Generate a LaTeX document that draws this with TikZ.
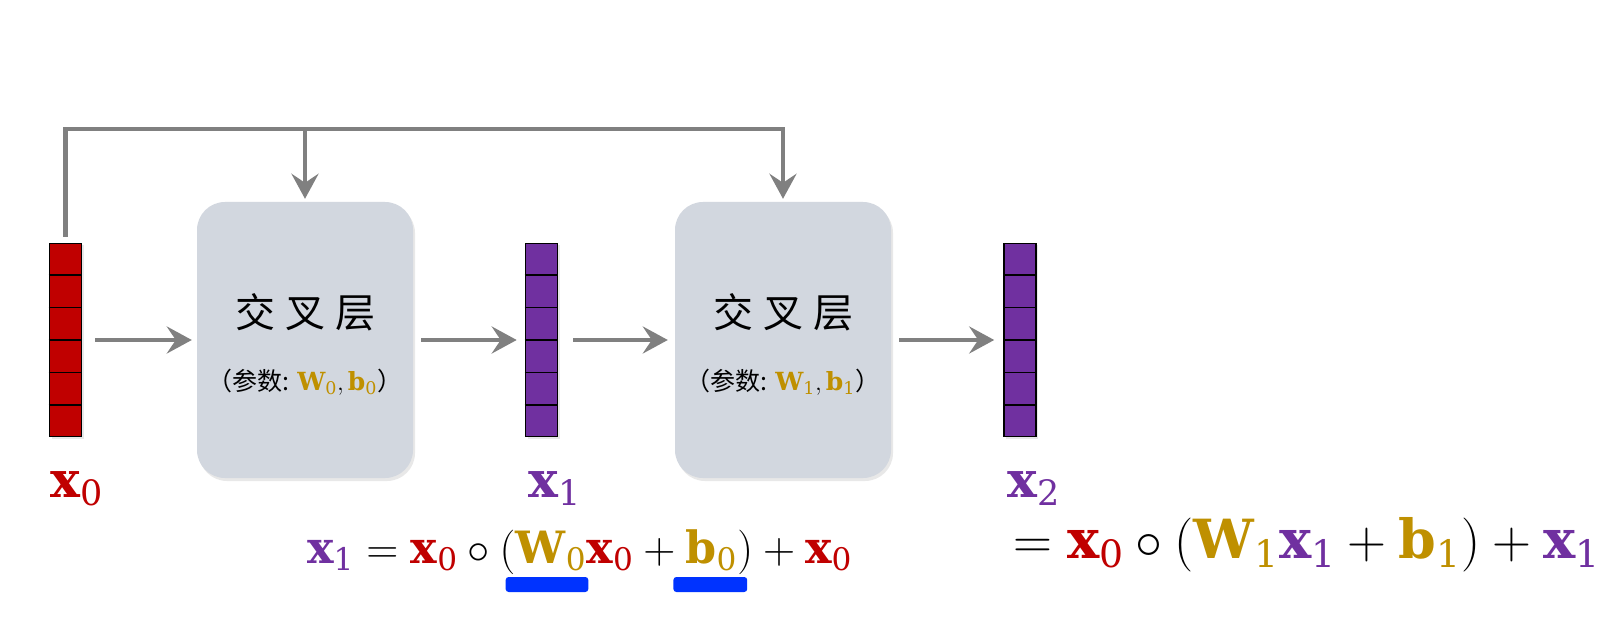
\RequirePackage{fix-cm}
\documentclass[tikz,border=0pt]{standalone}
\usepackage{fontspec}
\setmathrm{DejaVu Serif}
\newfontfamily\cjk{Noto Sans CJK SC}
\usetikzlibrary{arrows.meta,shadows,calc}
\definecolor{cred}{HTML}{C00000}
\definecolor{cpur}{HTML}{7030A0}
\definecolor{cgold}{HTML}{BF9000}
\definecolor{cblue}{HTML}{0033FF}
\definecolor{cgray}{HTML}{808080}
\definecolor{cbox}{HTML}{D2D7DF}
\newcommand{\Vx}[2]{{\color{#1}\mathbf{x}_{\mathrm{#2}}}}
\newcommand{\VW}[1]{{\color{cgold}\mathbf{W}_{\mathrm{#1}}}}
\newcommand{\Vb}[1]{{\color{cgold}\mathbf{b}_{\mathrm{#1}}}}
\newcommand{\Eq}{\mathrel{\mathrm{=}}}
\newcommand{\Pl}{\mathbin{\mathrm{+}}}
\tikzset{
  conn/.style={draw=cgray, line width=4.8pt, -{Stealth[length=25pt,width=27pt,inset=9pt]}},
  layer/.style={fill=cbox, draw=none, rounded corners=28pt, minimum width=216pt, minimum height=276pt, inner sep=0pt,
    drop shadow={opacity=0.18, shadow xshift=2pt, shadow yshift=-3pt}},
  vec/.style={draw=black, line width=1.6pt, minimum width=32pt, minimum height=193pt, inner sep=0pt,
    drop shadow={opacity=0.18, shadow xshift=2pt, shadow yshift=-2pt}},
  lbl/.style={anchor=base west, inner sep=0pt, font=\fontsize{50}{54}\selectfont},
  eqn/.style={anchor=base west, inner sep=0pt},
  eqa/.style={eqn, font=\fontsize{44.5}{48}\selectfont},
  bar/.style={fill=cblue, draw=none, rounded corners=3pt},
  title/.style={font=\cjk\fontsize{40}{44}\selectfont, inner sep=0pt},
  param/.style={font=\cjk\fontsize{25}{28}\selectfont, inner sep=0pt},
}
\newcommand{\cellines}[1]{%
  \foreach \i in {1,...,5}{\draw[line width=1.6pt] ($(#1.north west)!\i/6!(#1.south west)$) -- ($(#1.north east)!\i/6!(#1.south east)$);}}
\begin{document}
\begin{tikzpicture}[x=1pt,y=-1pt]
\useasboundingbox[fill=white] (0,0) rectangle (1620,620);
% vectors
\node[vec, fill=cred] (x0v) at (65.5,340) {};
\cellines{x0v}
\node[vec, fill=cpur] (x1v) at (541.5,340) {};
\cellines{x1v}
\node[vec, fill=cpur] (x2v) at (1020,340) {};
\cellines{x2v}
% layers
\node[layer] (b1) at (305,340) {};
\node[layer] (b2) at (783,340) {};
\node[title] (t1) at ([yshift=28pt]b1.center) {交\hspace{10pt}叉\hspace{10pt}层};
\node[title] (t2) at ([yshift=28pt]b2.center) {交\hspace{10pt}叉\hspace{10pt}层};
\node[param] (p1) at ([yshift=-42pt]b1.center) {（参数: $\VW{0}, \Vb{0}$）};
\node[param] (p2) at ([yshift=-42pt]b2.center) {（参数: $\VW{1}, \Vb{1}$）};
% forward arrows
\draw[conn, shorten <=13pt, shorten >=5pt] (x0v.east) -- (b1.west);
\draw[conn, shorten <=8pt, shorten >=8pt] (b1.east) -- (x1v.west);
\draw[conn, shorten <=15pt, shorten >=7pt] (x1v.east) -- (b2.west);
\draw[conn, shorten <=8pt, shorten >=9pt] (b2.east) -- (x2v.west);
% skip connection
\coordinate (top1) at (305,129);
\coordinate (top2) at (783,129);
\draw[conn] ([yshift=6pt]x0v.north) |- (top2) -- ([yshift=3pt]b2.north);
\draw[conn] (top1) -- ([yshift=3pt]b1.north);
% labels
\node[lbl] (l0) at (50,497) {$\Vx{cred}{0}$};
\node[lbl] (l1) at (528,497) {$\Vx{cpur}{1}$};
\node[lbl] (l2) at (1007,497) {$\Vx{cpur}{2}$};
% equation 1 (in pieces, so the bars sit under W0 and b0)
\node[eqa] (e1a) at (307,563) {$\Vx{cpur}{1} \Eq \Vx{cred}{0} \circ ($};
\node[eqa] (e1b) at (e1a.base east) {$\VW{0}$};
\node[eqa] (e1c) at (e1b.base east) {$\Vx{cred}{0} \Pl {}$};
\node[eqa] (e1d) at (e1c.base east) {$\Vb{0}$};
\node[eqa] (e1e) at (e1d.base east) {$) \Pl \Vx{cred}{0}$};
\path[bar] ([xshift=-10pt]e1b.base west |- 0,577) rectangle ([xshift=2pt]e1b.base east |- 0,592);
\path[bar] ([xshift=-12pt]e1d.base west |- 0,577) rectangle ([xshift=10pt]e1d.base east |- 0,592);
% equation 2
\node[eqn, font=\fontsize{54}{58}\selectfont] (e2) at (1013,558)
  {$\Eq \Vx{cred}{0} \circ (\VW{1}\Vx{cpur}{1} \Pl \Vb{1}) \Pl \Vx{cpur}{1}$};
\end{tikzpicture}
\end{document}
